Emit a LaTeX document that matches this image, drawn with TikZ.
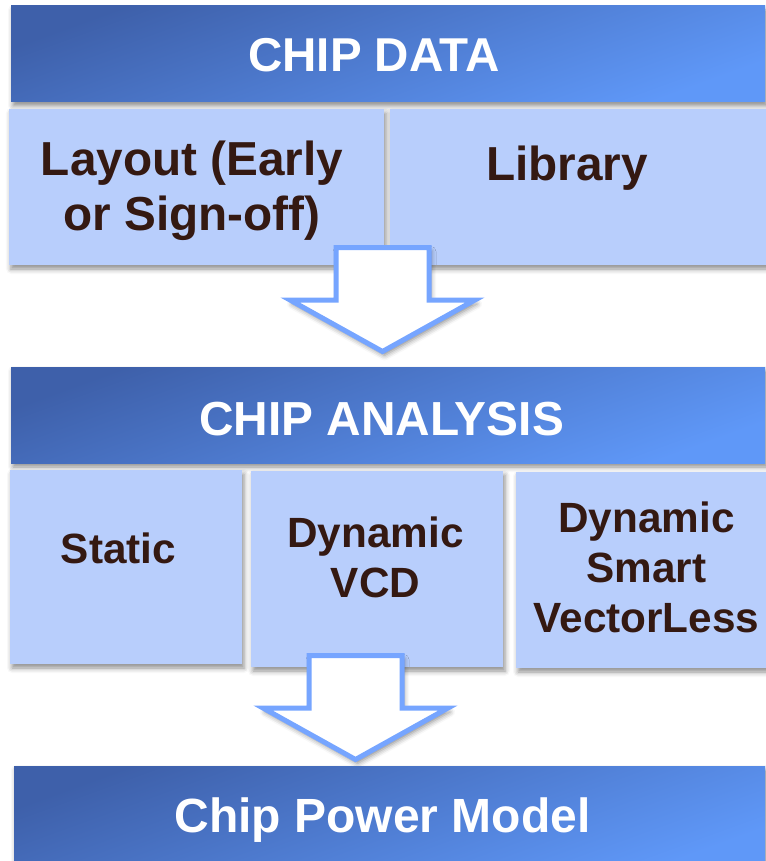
\documentclass[tikz,border=0pt]{standalone}
\usepackage{fontspec}
\setmainfont{Liberation Sans}
\usetikzlibrary{shadows.blur}
\definecolor{hdrtop}{HTML}{3E60AA}
\definecolor{hdrbot}{HTML}{5F98F8}
\definecolor{cellfill}{HTML}{B8CEFC}
\definecolor{celltext}{HTML}{341912}
\definecolor{arrowline}{HTML}{76A5FF}
\tikzset{
  softshadow/.style={blur shadow={shadow xshift=2pt, shadow yshift=-4pt,
      shadow blur radius=5pt, shadow opacity=45}},
  header/.style={rectangle, inner sep=0pt, top color=hdrtop,
      bottom color=hdrbot, shading angle=20, softshadow},
  cell/.style={rectangle, inner sep=0pt, fill=cellfill, softshadow},
  headtext/.style={text=white, inner sep=0pt, anchor=base},
  % multi-line text: the base anchor sits on the last line
  celltxt/.style={text=celltext, inner sep=0pt, align=center, anchor=base},
  bigfont/.style={font=\bfseries\fontsize{47.7}{55}\selectfont},
  smallfont/.style={font=\bfseries\fontsize{42.3}{50}\selectfont},
  flowarrow/.style={draw=arrowline, line width=5pt, fill=white,
      line join=miter, softshadow},
  downarrow/.pic={
    \path[flowarrow] (-46.5,0) -- (46.5,0) -- (46.5,52.5) -- (92.5,52.5)
      -- (0,104) -- (-92.5,52.5) -- (-46.5,52.5) -- cycle;
  }
}
\begin{document}
\begin{tikzpicture}[x=1pt, y=-1pt]
  \useasboundingbox (0,0) rectangle (765,861);

  % chip data block
  \node[header, minimum width=754pt, minimum height=96pt] (datahdr) at (388,54) {};
  \node[headtext, font=\bfseries\fontsize{47.5}{55}\selectfont] (datatitle) at (374,72) {CHIP DATA};
  \node[cell, minimum width=375pt, minimum height=156pt] (layout) at (196.5,187) {};
  \node[cell, minimum width=378pt, minimum height=156pt] (library) at (579,187) {};
  \node[celltxt, bigfont] (layouttxt) at (192,230) {Layout (Early\\or Sign-off)};
  \node[celltxt, bigfont] (librarytxt) at (567,180) {Library};

  % data -> analysis
  \pic at (382.5,247.5) {downarrow};

  % chip analysis block
  \node[header, minimum width=754pt, minimum height=96pt] (anahdr) at (388,415) {};
  \node[headtext, font=\bfseries\fontsize{47.8}{55}\selectfont] (anatitle) at (381.5,435) {CHIP ANALYSIS};
  \node[cell, minimum width=232pt, minimum height=194pt] (static) at (126,567) {};
  \node[cell, minimum width=252pt, minimum height=196pt] (vcd) at (377,569) {};
  \node[cell, minimum width=252pt, minimum height=196pt] (smart) at (642,570) {};
  \node[celltxt, smallfont] (statictxt) at (118.5,563) {Static};
  \node[celltxt, smallfont] (vcdtxt) at (375.5,597) {Dynamic\\VCD};
  \node[celltxt, smallfont] (smarttxt) at (646.5,632) {Dynamic\\Smart\\VectorLess};

  % analysis -> power model
  \pic at (355.5,655.5) {downarrow};

  % chip power model
  \node[header, minimum width=751pt, minimum height=104pt] (cpmhdr) at (389.5,818) {};
  \node[headtext, font=\bfseries\fontsize{48}{55}\selectfont] (cpmtitle) at (382.5,832) {Chip Power Model};
\end{tikzpicture}
\end{document}
